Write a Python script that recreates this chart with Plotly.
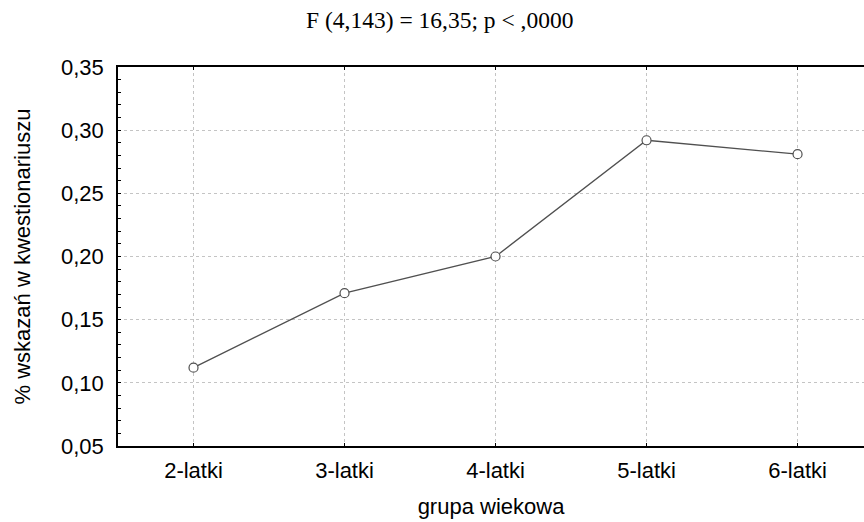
import plotly.graph_objects as go

# Mean share of questionnaire indications per age group
groups = ["2-latki", "3-latki", "4-latki", "5-latki", "6-latki"]
share = [0.112, 0.171, 0.200, 0.292, 0.281]

y_ticks = [0.05, 0.10, 0.15, 0.20, 0.25, 0.30, 0.35]

fig = go.Figure()
fig.add_trace(go.Scatter(
    x=list(range(len(groups))),
    y=share,
    mode="lines+markers",
    line=dict(color="#505050", width=1.3),
    marker=dict(symbol="circle", size=9, color="white",
                line=dict(color="#505050", width=1.2)),
    showlegend=False,
    cliponaxis=False,
))

fig.update_layout(
    width=864, height=522,
    margin=dict(l=118, r=0, t=67, b=76),
    paper_bgcolor="white", plot_bgcolor="white",
    separators=", ",
    title=dict(
        text="F (4,143) = 16,35; p < ,0000",
        font=dict(family="Liberation Serif, Times New Roman, serif", size=23.5, color="black"),
        x=0.509, xanchor="center", y=0.962, yanchor="middle",
    ),
    font=dict(family="Liberation Sans, Arial, sans-serif", size=22, color="black"),
)

fig.update_xaxes(
    range=[-0.5, 4.44],
    tickmode="array",
    tickvals=list(range(len(groups))),
    ticktext=groups,
    ticks="inside", ticklen=3, tickwidth=1, tickcolor="black",
    showline=True, linecolor="black", linewidth=1.5, mirror="ticks",
    showgrid=True, gridcolor="#c4c4c4", gridwidth=1, griddash="3px,3px",
    zeroline=False,
    ticklabelstandoff=4,
    title=dict(text="grupa wiekowa", standoff=16, font=dict(size=22)),
)

fig.update_yaxes(
    range=[0.05, 0.35],
    tickmode="array",
    tickvals=y_ticks,
    tickformat=".2f",
    ticks="inside", ticklen=3, tickwidth=1, tickcolor="black",
    minor=dict(dtick=0.01, tick0=0.05, ticks="inside", ticklen=3,
               tickwidth=1, tickcolor="black", showgrid=False),
    showline=True, linecolor="black", linewidth=1.5, mirror=False,
    showgrid=True, gridcolor="#c4c4c4", gridwidth=1, griddash="3px,3px",
    zeroline=False,
    ticklabelstandoff=8,
    title=dict(text="% wskazań w kwestionariuszu", standoff=24, font=dict(size=22)),
)

fig.write_html("out.html")
